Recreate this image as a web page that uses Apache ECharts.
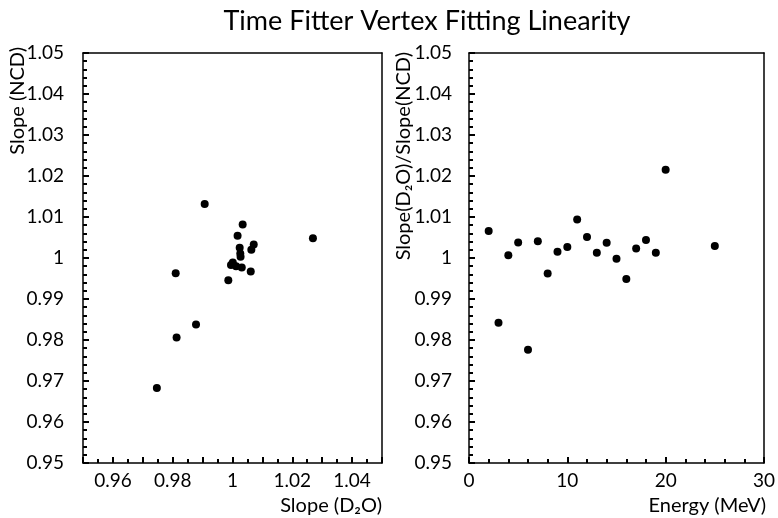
<!DOCTYPE html>
<html>
<head>
<meta charset="utf-8">
<script src="https://cdn.jsdelivr.net/npm/echarts@6/dist/echarts.min.js"></script>
<style>html,body{margin:0;padding:0;background:#fff}#c{width:778px;height:518px}</style>
</head>
<body>
<div id="c"></div>
<script>
// Left panel: Slope (D2O) vs Slope (NCD)
const slopeD2O = [0.9747, 0.9810, 0.9813, 0.9878, 0.9907, 0.9986, 0.9995, 1.0001, 1.0012, 1.0031, 1.0061, 1.0024, 1.0026, 1.0027, 1.0017, 1.0034, 1.0071, 1.0063, 1.0269];
const slopeNCD = [0.9683, 0.9963, 0.9806, 0.9838, 1.0132, 0.9946, 0.9983, 0.9989, 0.9980, 0.9977, 0.9967, 1.0025, 1.0011, 1.0003, 1.0054, 1.0082, 1.0033, 1.0020, 1.0048];
// Right panel: Energy vs ratio
const energy = [2, 3, 4, 5, 6, 7, 8, 9, 10, 11, 12, 13, 14, 15, 16, 17, 18, 19, 20, 25];
const ratio = [1.0066, 0.9842, 1.0007, 1.0038, 0.9776, 1.0041, 0.9962, 1.0015, 1.0027, 1.0094, 1.0051, 1.0013, 1.0037, 0.9998, 0.9949, 1.0023, 1.0044, 1.0013, 1.0215, 1.0029];

const titleText = 'Time Fitter Vertex Fitting Linearity';
const leftXName = 'Slope (D₂O)';
const leftYName = 'Slope (NCD)';
const rightXName = 'Energy (MeV)';
const rightYName = 'Slope(D₂O)/Slope(NCD)';

const FONT = 'Lato';
const LABEL_SIZE = 19;
const NAME_SIZE = 20;
const chart = echarts.init(document.getElementById('c'), null, {renderer: 'canvas'});

function fmt2(v) {
  const k = Math.round(v * 100);
  return (k % 2 === 0) ? String(+v.toFixed(2)) : '';
}
function mainAxis(grid, min, max, interval, minorSplit, margin, formatter) {
  const ax = {
    type: 'value', gridIndex: grid, min: min, max: max, interval: interval,
    axisLine: {show: true, lineStyle: {color: '#000', width: 1.5}},
    axisTick: {show: true, inside: true, length: 6, lineStyle: {color: '#000', width: 2}},
    minorTick: {show: true, splitNumber: minorSplit, length: 4, lineStyle: {color: '#000', width: 2}},
    splitLine: {show: false},
    axisLabel: {color: '#000', fontFamily: FONT, fontSize: LABEL_SIZE, margin: margin}
  };
  if (formatter) ax.axisLabel.formatter = formatter;
  return ax;
}
function frameAxis(grid, min, max, pos) {
  return {
    type: 'value', gridIndex: grid, min: min, max: max, position: pos,
    axisLine: {show: true, onZero: false, lineStyle: {color: '#000', width: 1.5}},
    axisTick: {show: false}, axisLabel: {show: false}, splitLine: {show: false}
  };
}

const option = {
  backgroundColor: '#fff',
  animation: false,
  grid: [
    {left: 83, top: 53, width: 299, height: 410},
    {left: 469, top: 53, width: 298, height: 410}
  ],
  xAxis: [
    Object.assign(mainAxis(0, 0.95, 1.05, 0.01, 2, 8, fmt2), {position: 'bottom'}),
    Object.assign(mainAxis(1, 0, 30, 10, 5, 8, null), {position: 'bottom'}),
    frameAxis(0, 0.95, 1.05, 'top'),
    frameAxis(1, 0, 30, 'top')
  ],
  yAxis: [
    Object.assign(mainAxis(0, 0.95, 1.05, 0.01, 5, 19, v => String(+v.toFixed(2))), {position: 'left'}),
    Object.assign(mainAxis(1, 0.95, 1.05, 0.01, 5, 17, v => String(+v.toFixed(2))), {position: 'left'}),
    frameAxis(0, 0.95, 1.05, 'right'),
    frameAxis(1, 0.95, 1.05, 'right')
  ],
  series: [
    {type: 'scatter', xAxisIndex: 0, yAxisIndex: 0, symbol: 'circle', symbolSize: 8,
     itemStyle: {color: '#000', opacity: 1}, data: slopeD2O.map((x, i) => [x, slopeNCD[i]])},
    {type: 'scatter', xAxisIndex: 1, yAxisIndex: 1, symbol: 'circle', symbolSize: 8,
     itemStyle: {color: '#000', opacity: 1}, data: energy.map((x, i) => [x, ratio[i]])}
  ],
  graphic: [
    {type: 'text', x: 427, y: 21, style: {text: titleText, fontFamily: FONT, fontSize: 27, fill: '#000', align: 'center', verticalAlign: 'middle'}},
    {type: 'text', x: 382, y: 506, style: {text: leftXName, fontFamily: FONT, fontSize: NAME_SIZE, fill: '#000', align: 'right', verticalAlign: 'middle'}},
    {type: 'text', x: 766, y: 506, style: {text: rightXName, fontFamily: FONT, fontSize: NAME_SIZE, fill: '#000', align: 'right', verticalAlign: 'middle'}},
    {type: 'text', x: 18, y: 47, rotation: Math.PI / 2, style: {text: leftYName, fontFamily: FONT, fontSize: NAME_SIZE, fill: '#000', align: 'right', verticalAlign: 'middle'}},
    {type: 'text', x: 404, y: 52, rotation: Math.PI / 2, style: {text: rightYName, fontFamily: FONT, fontSize: NAME_SIZE, fill: '#000', align: 'right', verticalAlign: 'middle'}}
  ]
};
chart.setOption(option);
</script>
</body>
</html>
